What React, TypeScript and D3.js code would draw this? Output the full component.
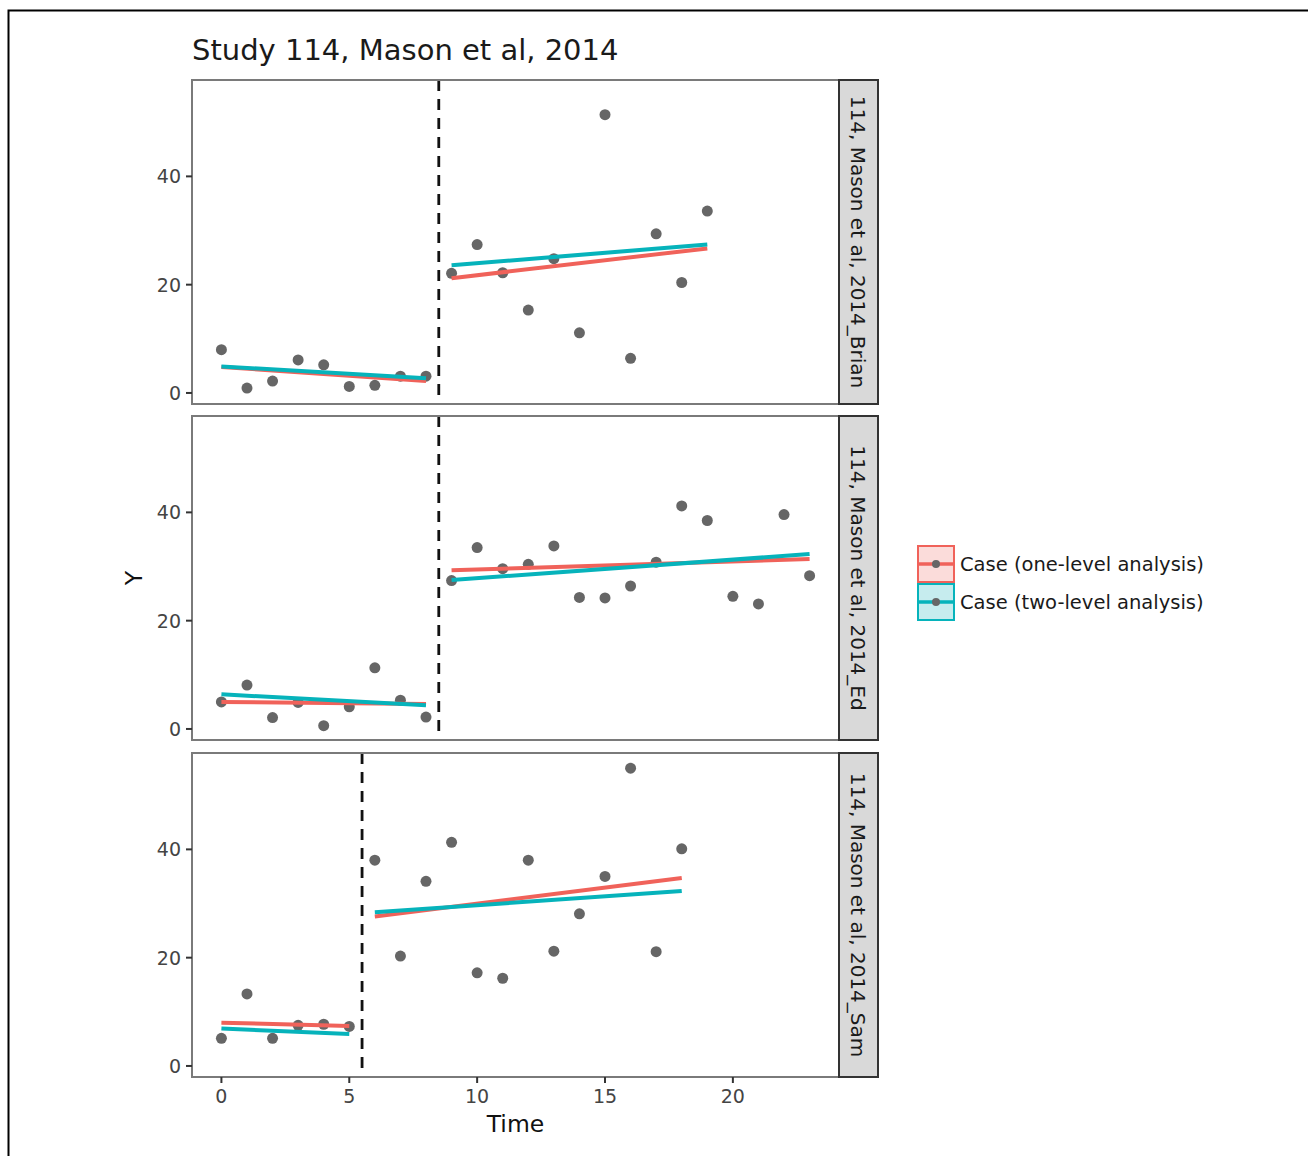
import React, { useEffect } from "react";
import * as d3 from "d3";

// observed values per facet (index = Time)
const brianY = [8.0, 0.9, 2.2, 6.1, 5.2, 1.2, 1.4, 3.1, 3.1, 22.1, 27.4, 22.2, 15.3, 24.8, 11.1, 51.4, 6.4, 29.4, 20.4, 33.6];
const edY = [5.0, 8.1, 2.1, 4.9, 0.6, 4.1, 11.3, 5.3, 2.2, 27.4, 33.5, 29.6, 30.4, 33.8, 24.3, 24.2, 26.4, 30.8, 41.2, 38.5, 24.5, 23.1, 39.6, 28.3];
const samY = [5.1, 13.3, 5.1, 7.5, 7.7, 7.3, 38.0, 20.3, 34.1, 41.3, 17.2, 16.2, 38.0, 21.2, 28.1, 35.0, 55.0, 21.1, 40.1];

// fitted segments [[t0, y0], [t1, y1]] per phase
const brianOne = [[[0, 4.8], [8, 2.2]], [[9, 21.2], [19, 26.7]]];
const brianTwo = [[[0, 4.9], [8, 2.7]], [[9, 23.6], [19, 27.4]]];
const edOne = [[[0, 5.0], [8, 4.6]], [[9, 29.3], [23, 31.4]]];
const edTwo = [[[0, 6.4], [8, 4.4]], [[9, 27.5], [23, 32.3]]];
const samOne = [[[0, 8.0], [5, 7.4]], [[6, 27.6], [18, 34.7]]];
const samTwo = [[[0, 6.9], [5, 5.9]], [[6, 28.4], [18, 32.3]]];

const facetNames = ["114, Mason et al, 2014_Brian", "114, Mason et al, 2014_Ed", "114, Mason et al, 2014_Sam"];
const phaseChange = [8.5, 8.5, 5.5];
const yTicks = [0, 20, 40];
const xTicks = [0, 5, 10, 15, 20];
const seriesNames = ["Case (one-level analysis)", "Case (two-level analysis)"];

const RED = "#F0625A";
const TEAL = "#06B3BB";
const FONT = "'DejaVu Sans', Verdana, sans-serif";

const facets = [
  { name: facetNames[0], ys: brianY, one: brianOne, two: brianTwo, cut: phaseChange[0] },
  { name: facetNames[1], ys: edY, one: edOne, two: edTwo, cut: phaseChange[1] },
  { name: facetNames[2], ys: samY, one: samOne, two: samTwo, cut: phaseChange[2] },
];

const panelTops = [80, 416, 753];
const panelH = 324;
const left = 192;
const right = 839;
const stripW = 39;

export default function App() {
  useEffect(() => {
    document.body.style.margin = "0";
  }, []);

  const x = d3.scaleLinear().domain([-1.15, 24.15]).range([left, right]);
  const line = d3.line();

  return (
    <svg width={1308} height={1156} style={{ display: "block", background: "#fff" }} fontFamily={FONT}>
      {/* outer frame */}
      <rect x={8.5} y={10.5} width={1320} height={1200} fill="none" stroke="#000" strokeWidth={2} />

      <text x={192} y={60} fontSize={29} fill="#1a1a1a">Study 114, Mason et al, 2014</text>

      {facets.map((f, i) => {
        const top = panelTops[i];
        const y = d3.scaleLinear().domain([-2.04, 57.8]).range([top + panelH, top]);
        const pts = f.ys.map((v, t) => [t, v]);
        const seg = (s) => line(s.map((p) => [x(p[0]), y(p[1])]));
        return (
          <g key={f.name}>
            <rect x={left} y={top} width={right - left} height={panelH} fill="#fff" />
            <line x1={x(f.cut)} x2={x(f.cut)} y1={top} y2={top + panelH} stroke="#111" strokeWidth={2.8} strokeDasharray="11,8" />
            {pts.map((p) => (
              <circle key={p[0]} cx={x(p[0])} cy={y(p[1])} r={5.5} fill="#666" />
            ))}
            {f.one.map((s, k) => (
              <path key={"o" + k} d={seg(s)} stroke={RED} strokeWidth={4} fill="none" />
            ))}
            {f.two.map((s, k) => (
              <path key={"t" + k} d={seg(s)} stroke={TEAL} strokeWidth={4} fill="none" />
            ))}
            <rect x={left} y={top} width={right - left} height={panelH} fill="none" stroke="#7a7a7a" strokeWidth={2} />
            {yTicks.map((t) => (
              <g key={t}>
                <line x1={left - 6} x2={left} y1={y(t)} y2={y(t)} stroke="#333" strokeWidth={2} />
                <text x={left - 11} y={y(t)} dy="0.36em" textAnchor="end" fontSize={19} fill="#444">{t}</text>
              </g>
            ))}
            {/* strip */}
            <rect x={right} y={top} width={stripW} height={panelH} fill="#d9d9d9" stroke="#333" strokeWidth={2} />
            <text
              transform={`translate(${right + stripW / 2},${top + panelH / 2}) rotate(90)`}
              textAnchor="middle"
              dy="0.36em"
              fontSize={20}
              fill="#1a1a1a"
            >
              {f.name}
            </text>
            {i === 2 &&
              xTicks.map((t) => (
                <g key={"x" + t}>
                  <line x1={x(t)} x2={x(t)} y1={top + panelH} y2={top + panelH + 6} stroke="#333" strokeWidth={2} />
                  <text x={x(t)} y={top + panelH + 26} textAnchor="middle" fontSize={19} fill="#444">{t}</text>
                </g>
              ))}
          </g>
        );
      })}

      <text x={x(11.5)} y={1132} textAnchor="middle" fontSize={23.5} fill="#111">Time</text>
      <text transform="translate(142,578) rotate(-90)" textAnchor="middle" fontSize={23.5} fill="#111">Y</text>

      {/* legend */}
      {seriesNames.map((s, k) => {
        const c = k === 0 ? RED : TEAL;
        const fill = k === 0 ? "#fbdcda" : "#c6ecee";
        const yy = 546 + k * 38;
        return (
          <g key={s}>
            <rect x={918} y={yy} width={36} height={36} fill={fill} stroke={c} strokeWidth={2} />
            <line x1={919} x2={953} y1={yy + 18} y2={yy + 18} stroke={c} strokeWidth={3.5} />
            <circle cx={936} cy={yy + 18} r={4} fill="#666" />
            <text x={960} y={yy + 18} dy="0.36em" fontSize={19.5} fill="#1a1a1a">{s}</text>
          </g>
        );
      })}
    </svg>
  );
}
